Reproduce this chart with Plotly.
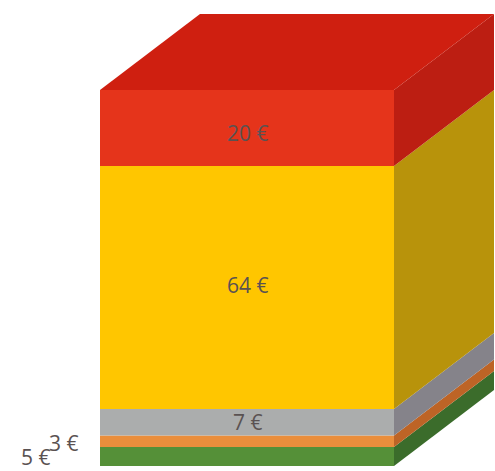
import plotly.graph_objects as go

labels = ["5 €", "3 €", "7 €", "64 €", "20 €"]
values = [5, 3, 7, 64, 20]
front_colors = ["#559038", "#EA8E3C", "#ABADAD", "#FFC600", "#E5341B"]
side_colors = ["#3B6C2B", "#BD6426", "#85838A", "#B8930B", "#BC1E12"]
top_color = "#CF1F10"

W, H = 495, 471
front_px = 294
left_px = 100
base_px = 466
unit_px = 3.798
depth_x = 100 / front_px
depth_y = 76 / unit_px

fig = go.Figure()
bottom = 0
for i, v in enumerate(values):
    fig.add_trace(go.Bar(x=[0.5], y=[v], base=[bottom], width=[1],
                         marker=dict(color=front_colors[i], line_width=0),
                         showlegend=False, hoverinfo="skip"))
    t = bottom + v
    fig.add_trace(go.Scatter(
        x=[1, 1 + depth_x, 1 + depth_x, 1, 1],
        y=[bottom, bottom + depth_y, t + depth_y, t, bottom],
        mode="lines", fill="toself", fillcolor=side_colors[i],
        line=dict(width=0), showlegend=False, hoverinfo="skip"))
    bottom = t

fig.add_trace(go.Scatter(
    x=[0, depth_x, 1 + depth_x, 1, 0],
    y=[bottom, bottom + depth_y, bottom + depth_y, bottom, bottom],
    mode="lines", fill="toself", fillcolor=top_color,
    line=dict(width=0), showlegend=False, hoverinfo="skip"))

# label pixel offsets from each segment's centre
shifts = [(-212, 0), (-184, -2), (0, 0), (0, 2), (0, -5)]
bottom = 0
for i, v in enumerate(values):
    sx, sy = shifts[i]
    y = bottom + v / 2
    fig.add_annotation(x=0.5, y=y, text=labels[i], showarrow=False,
                       xshift=sx, yshift=sy, borderpad=0, borderwidth=0,
                       font=dict(family="Open Sans", size=21, color="#5A5252"))
    bottom += v

fig.update_layout(
    width=W, height=H, margin=dict(l=0, r=0, t=0, b=0),
    autosize=False, paper_bgcolor="white", plot_bgcolor="white",
    barmode="overlay", showlegend=False,
    xaxis=dict(range=[-left_px / front_px, (W - left_px) / front_px], visible=False, fixedrange=True),
    yaxis=dict(range=[-(H - base_px) / unit_px, base_px / unit_px], visible=False, fixedrange=True),
)
fig.write_html("out.html", config={"displayModeBar": False, "responsive": False},
               post_script="document.body.style.margin='0';document.body.style.overflow='hidden';")
